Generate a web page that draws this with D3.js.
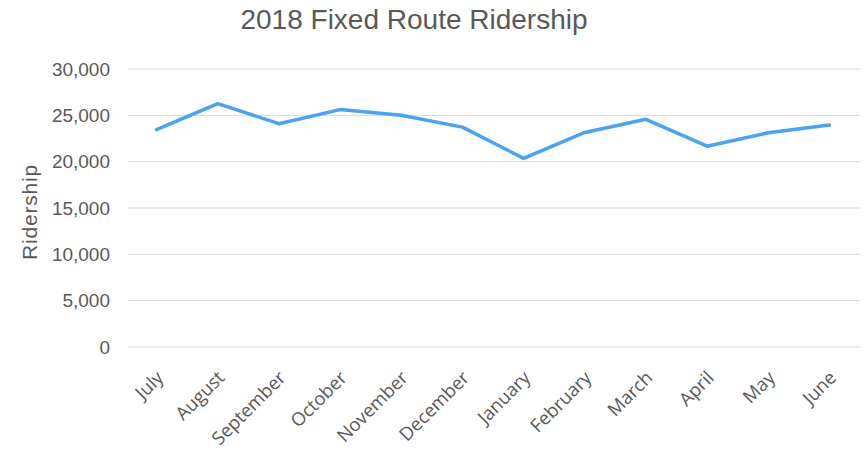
<!DOCTYPE html>
<html>
<head>
<meta charset="utf-8">
<script src="https://cdn.jsdelivr.net/npm/d3@7"></script>
<style>
  body { margin: 0; background: #fff; }
  text { fill: #595959; }
</style>
</head>
<body>
<div id="chart"></div>
<script>
// chart data
const months = ["July", "August", "September", "October", "November", "December",
  "January", "February", "March", "April", "May", "June"];
const ridership = [23450, 26270, 24100, 25620, 25000, 23730,
  20360, 23150, 24570, 21670, 23120, 23950];
const yTicks = [0, 5000, 10000, 15000, 20000, 25000, 30000];

const width = 865, height = 451;
const margin = { top: 69, right: 5, bottom: 104, left: 126 };
const sans = "'Liberation Sans', Arial, sans-serif";

const svg = d3.select("#chart").append("svg")
  .attr("width", width)
  .attr("height", height);

const x = d3.scaleBand()
  .domain(months)
  .range([margin.left, width - margin.right]);

const y = d3.scaleLinear()
  .domain([0, 30000])
  .range([height - margin.bottom, margin.top]);

// gridlines
svg.append("g")
  .selectAll("line")
  .data(yTicks)
  .join("line")
  .attr("x1", margin.left + 2)
  .attr("x2", width - margin.right)
  .attr("y1", d => y(d))
  .attr("y2", d => y(d))
  .attr("stroke", "#d9d9d9")
  .attr("stroke-width", 1);

// y axis labels
const yAxis = svg.append("g")
  .attr("transform", `translate(${margin.left - 13},0)`)
  .call(d3.axisLeft(y).tickValues(yTicks).tickFormat(d3.format(",")).tickSize(0));
yAxis.select(".domain").remove();
yAxis.selectAll("text")
  .style("font-size", "19px")
  .style("font-family", sans)
  .style("fill", "#595959");

// x axis labels
const xAxis = svg.append("g")
  .attr("transform", `translate(0,${height - margin.bottom + 20})`)
  .call(d3.axisBottom(x).tickSize(0));
xAxis.select(".domain").remove();
xAxis.selectAll("text")
  .style("font-size", "18.5px")
  .style("font-family", "'Open Sans', sans-serif")
  .style("fill", "#595959")
  .attr("text-anchor", "end")
  .attr("dy", "0.75em")
  .attr("transform", "translate(-4,0) rotate(-45)");

// line
const line = d3.line()
  .x((d, i) => x(months[i]) + x.bandwidth() / 2)
  .y(d => y(d));

svg.append("path")
  .datum(ridership)
  .attr("d", line)
  .attr("fill", "none")
  .attr("stroke", "#4aa3f2")
  .attr("stroke-width", 3.5)
  .attr("stroke-linejoin", "round")
  .attr("stroke-linecap", "round");

// title
svg.append("text")
  .attr("x", 414)
  .attr("y", 29)
  .attr("text-anchor", "middle")
  .style("font-family", sans)
  .style("font-size", "28px")
  .text("2018 Fixed Route Ridership");

// y axis title
svg.append("text")
  .attr("transform", `translate(37,212) rotate(-90)`)
  .attr("text-anchor", "middle")
  .style("font-family", sans)
  .style("font-size", "21px")
  .attr("letter-spacing", 0.8)
  .text("Ridership");
</script>
</body>
</html>
